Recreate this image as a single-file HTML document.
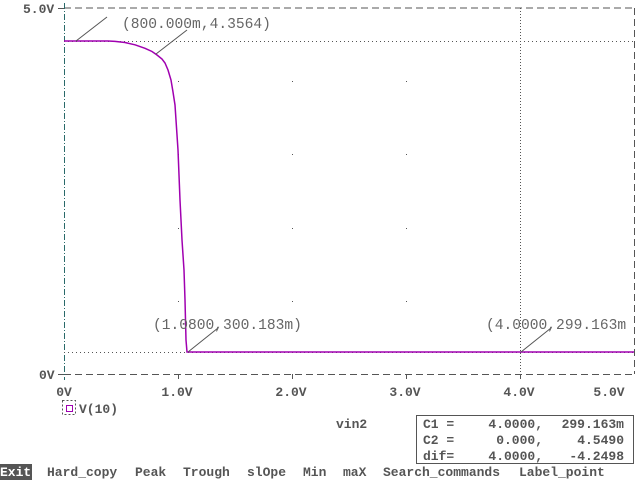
<!DOCTYPE html>
<html><head><meta charset="utf-8"><style>
html,body{margin:0;padding:0;background:#fff;}
svg{display:block;}
text{font-family:"Liberation Mono","DejaVu Sans Mono",monospace;font-size:13px;fill:#555;}
.b{font-weight:bold;}
.l{font-size:14.6px;fill:#666;}
</style></head><body>
<svg width="640" height="480" xmlns="http://www.w3.org/2000/svg">
<line x1="64" y1="8" x2="634" y2="8" stroke="#555" stroke-dasharray="7,4"/>
<line x1="64" y1="374.5" x2="634" y2="374.5" stroke="#555" stroke-dasharray="7,4"/>
<line x1="634.5" y1="8" x2="634.5" y2="374" stroke="#555" stroke-dasharray="7,4"/>
<line x1="64.5" y1="3" x2="64.5" y2="380" stroke="#2a6a6a" stroke-dasharray="6,2,1,2"/>
<line x1="58" y1="8.5" x2="64" y2="8.5" stroke="#555"/>
<line x1="58" y1="374.5" x2="64" y2="374.5" stroke="#555"/>
<g stroke="#555">
<line x1="178.5" y1="374" x2="178.5" y2="379"/>
<line x1="292.5" y1="374" x2="292.5" y2="379"/>
<line x1="406.5" y1="374" x2="406.5" y2="379"/>
<line x1="520.5" y1="374" x2="520.5" y2="379"/>
</g>
<g fill="#555">
<rect x="178" y="81" width="1" height="1"/><rect x="292" y="81" width="1" height="1"/><rect x="406" y="81" width="1" height="1"/>
<rect x="178" y="154" width="1" height="1"/><rect x="292" y="154" width="1" height="1"/><rect x="406" y="154" width="1" height="1"/>
<rect x="178" y="228" width="1" height="1"/><rect x="292" y="228" width="1" height="1"/><rect x="406" y="228" width="1" height="1"/>
<rect x="178" y="301" width="1" height="1"/><rect x="292" y="301" width="1" height="1"/><rect x="406" y="301" width="1" height="1"/>
</g>
<line x1="64" y1="41.5" x2="634" y2="41.5" stroke="#555" stroke-dasharray="1,3"/>
<line x1="64" y1="352.5" x2="634" y2="352.5" stroke="#555" stroke-dasharray="1,3"/>
<line x1="520.5" y1="8" x2="520.5" y2="374" stroke="#555" stroke-dasharray="1,2"/>
<polyline fill="none" stroke="#a000b0" stroke-width="1.5" points="64,41 108,41 115,41.4 125,42.5 135,44.8 145,48.3 152,51.5 157,55 162,59 165,63 168,70 171,80 173,92 175,105 176,120 178,150 180,200 182,240 184,270 185,300 186,340 187,352 634,352"/>
<g stroke="#555">
<line x1="76" y1="41" x2="107" y2="17"/>
<line x1="156" y1="54" x2="187" y2="30"/>
<line x1="188" y1="352" x2="218" y2="328"/>
<line x1="521" y1="352" x2="551" y2="328"/>
</g>
<text class="l" x="122" y="28">(800.000m,4.3564)</text>
<text class="l" x="153" y="329">(1.0800,300.183m)</text>
<text class="l" x="486" y="329">(4.0000,299.163m</text>
<text class="b" x="23" y="13">5.0V</text>
<text class="b" x="39" y="379">0V</text>
<text class="b" x="64" y="396" text-anchor="middle">0V</text>
<text class="b" x="177" y="396" text-anchor="middle">1.0V</text>
<text class="b" x="291" y="396" text-anchor="middle">2.0V</text>
<text class="b" x="405" y="396" text-anchor="middle">3.0V</text>
<text class="b" x="519" y="396" text-anchor="middle">4.0V</text>
<text class="b" x="609" y="396" text-anchor="middle">5.0V</text>
<rect x="62.5" y="400.5" width="13" height="14" fill="none" stroke="#555" stroke-dasharray="2,2"/>
<rect x="66.5" y="405.5" width="6" height="6" fill="none" stroke="#a000b0"/>
<text class="b" x="79" y="413">V(10)</text>
<text class="b" x="336" y="428">vin2</text>
<rect x="416.5" y="415.5" width="217" height="48" fill="none" stroke="#555"/>
<text class="b" x="423" y="428">C1 =</text><text class="b" x="543" y="428" text-anchor="end">4.0000,</text><text class="b" x="624" y="428" text-anchor="end">299.163m</text>
<text class="b" x="423" y="444">C2 =</text><text class="b" x="543" y="444" text-anchor="end">0.000,</text><text class="b" x="624" y="444" text-anchor="end">4.5490</text>
<text class="b" x="423" y="460">dif=</text><text class="b" x="543" y="460" text-anchor="end">4.0000,</text><text class="b" x="624" y="460" text-anchor="end">-4.2498</text>
<rect x="0" y="464" width="32" height="16" fill="#555"/>
<text class="b" x="0" y="476" style="fill:#fff">Exit</text>
<text class="b" x="47" y="476">Hard_copy</text>
<text class="b" x="135" y="476">Peak</text>
<text class="b" x="183" y="476">Trough</text>
<text class="b" x="247" y="476">slOpe</text>
<text class="b" x="303" y="476">Min</text>
<text class="b" x="343" y="476">maX</text>
<text class="b" x="383" y="476">Search_commands</text>
<text class="b" x="519" y="476">Label_point</text>
</svg>
</body></html>
